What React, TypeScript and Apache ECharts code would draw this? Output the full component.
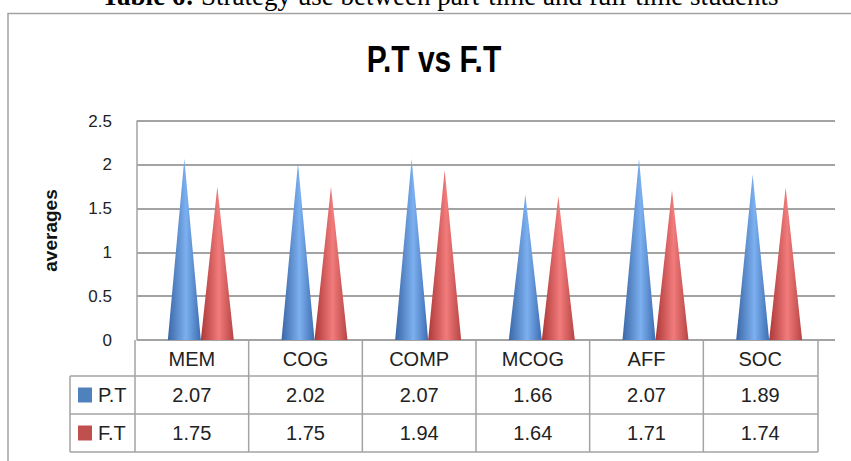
import React, { useEffect, useRef } from "react";
import * as echarts from "echarts";

const categories = ["MEM", "COG", "COMP", "MCOG", "AFF", "SOC"];
const ptValues = [2.07, 2.02, 2.07, 1.66, 2.07, 1.89];
const ftValues = [1.75, 1.75, 1.94, 1.64, 1.71, 1.74];
const seriesNames = ["P.T", "F.T"];
const yTicks = { min: 0, max: 2.5, interval: 0.5 };
const chartTitle = "P.T vs F.T";
const captionBold = "Table 6:";
const captionRest = " Strategy use between part-time and full-time students";
const yAxisName = "averages";

const FONT = "'Liberation Sans', Arial, sans-serif";
const SERIF = "'Liberation Serif', 'Times New Roman', serif";
const LINE = "#a3a3a3";

// layout
const PLOT_L = 137, PLOT_R = 835, PLOT_T = 121, PLOT_B = 340;
const SER_L = 144, SER_W = 682;
const TBL_L = 70, COL_L = 135, COL_R = 817;
const ROW_Y = [340, 376, 414, 452];
const CONE_HALF = 16.5;

const blueGrad = () =>
  new echarts.graphic.LinearGradient(0, 0, 1, 0, [
    { offset: 0, color: "#3a66a6" },
    { offset: 0.55, color: "#7cb0f0" },
    { offset: 1, color: "#3e6db2" },
  ]);
const redGrad = () =>
  new echarts.graphic.LinearGradient(0, 0, 1, 0, [
    { offset: 0, color: "#ad3838" },
    { offset: 0.55, color: "#f27b7b" },
    { offset: 1, color: "#b74444" },
  ]);

function coneSeries(name: string, values: number[], offset: number, grad: () => any) {
  return {
    type: "custom",
    name,
    xAxisIndex: 1,
    yAxisIndex: 1,
    data: values.map((v, i) => [i, v]),
    encode: { x: 0, y: 1 },
    renderItem: (_params: any, api: any) => {
      const idx = api.value(0);
      const v = api.value(1);
      const top = api.coord([idx, v]);
      const base = api.coord([idx, 0]);
      const cx = base[0] + offset;
      return {
        type: "polygon",
        shape: {
          points: [
            [cx - CONE_HALF, base[1]],
            [cx, top[1]],
            [cx + CONE_HALF, base[1]],
          ],
        },
        style: { fill: grad() },
      };
    },
  };
}

function tableGraphics() {
  const els: any[] = [];
  const colW = (COL_R - COL_L) / categories.length;
  const line = (x1: number, y1: number, x2: number, y2: number) => ({
    type: "line",
    shape: { x1, y1, x2, y2 },
    style: { stroke: LINE, lineWidth: 1.5 },
    silent: true,
  });
  els.push(line(TBL_L, ROW_Y[1], COL_R + 1, ROW_Y[1]));
  els.push(line(TBL_L, ROW_Y[2], COL_R + 1, ROW_Y[2]));
  els.push(line(TBL_L, ROW_Y[3], COL_R + 1, ROW_Y[3]));
  els.push(line(TBL_L, ROW_Y[1], TBL_L, ROW_Y[3]));
  for (let i = 0; i <= categories.length; i++) {
    const x = COL_L + i * colW + (i === categories.length ? 1 : 0);
    els.push(line(x, ROW_Y[0], x, ROW_Y[3]));
  }
  const txt = (text: string, x: number, y: number, align = "center") => ({
    type: "text",
    x,
    y,
    style: {
      text,
      fill: "#222",
      font: `20px ${FONT}`,
      textAlign: align,
      align,
      textVerticalAlign: "middle",
      verticalAlign: "middle",
    },
    silent: true,
  });
  categories.forEach((c, i) => {
    const cx = COL_L + (i + 0.5) * colW;
    els.push(txt(c, cx, (ROW_Y[0] + ROW_Y[1]) / 2 + 1));
    els.push(txt(ptValues[i].toFixed(2), cx, (ROW_Y[1] + ROW_Y[2]) / 2));
    els.push(txt(ftValues[i].toFixed(2), cx, (ROW_Y[2] + ROW_Y[3]) / 2));
  });
  const keyColors = ["#4f81bd", "#c0504d"];
  seriesNames.forEach((n, r) => {
    const cy = (ROW_Y[r + 1] + ROW_Y[r + 2]) / 2;
    els.push({
      type: "rect",
      shape: { x: 78, y: cy - 7.5, width: 14, height: 15 },
      style: { fill: keyColors[r] },
      silent: true,
    });
    els.push(txt(n, 98, cy, "left"));
  });
  return els;
}

export default function App() {
  const ref = useRef<HTMLDivElement>(null);
  useEffect(() => {
    if (!ref.current) return;
    const chart = echarts.init(ref.current, undefined, { renderer: "svg" });
    chart.setOption({
      animation: false,
      backgroundColor: "#fff",
      grid: [
        { left: PLOT_L, top: PLOT_T, width: PLOT_R - PLOT_L, height: PLOT_B - PLOT_T },
        { left: SER_L, top: PLOT_T, width: SER_W, height: PLOT_B - PLOT_T },
      ],
      xAxis: [
        { gridIndex: 0, type: "category", data: categories, show: false },
        { gridIndex: 1, type: "category", data: categories, show: false },
      ],
      yAxis: [
        {
          gridIndex: 0,
          type: "value",
          min: yTicks.min,
          max: yTicks.max,
          interval: yTicks.interval,
          name: yAxisName,
          nameLocation: "middle",
          nameRotate: 90,
          nameGap: 77,
          nameTextStyle: { fontFamily: FONT, fontSize: 19, fontWeight: "bold", color: "#111" },
          axisLine: { show: true, lineStyle: { color: LINE, width: 1.5 } },
          axisTick: { show: false },
          axisLabel: { fontFamily: FONT, fontSize: 17, color: "#222", margin: 25 },
          splitLine: { show: true, lineStyle: { color: LINE, width: 2 } },
        },
        {
          gridIndex: 1,
          type: "value",
          min: yTicks.min,
          max: yTicks.max,
          interval: yTicks.interval,
          show: false,
          splitLine: { show: false },
        },
      ],
      series: [
        coneSeries(seriesNames[0], ptValues, -CONE_HALF, blueGrad),
        coneSeries(seriesNames[1], ftValues, CONE_HALF, redGrad),
      ],
      graphic: [
        {
          type: "rect",
          shape: { x: 8, y: 13.5, width: 900, height: 500 },
          style: { fill: "none", stroke: LINE, lineWidth: 1.5 },
          silent: true,
          z: -10,
        },
        {
          type: "text",
          x: 440,
          y: -4.5,
          style: {
            text: `{b|${captionBold}}${captionRest}`,
            rich: {
              b: { fontWeight: "bold", fontFamily: SERIF, fontSize: 27, fill: "#000" },
            },
            font: `27px ${SERIF}`,
            fill: "#000",
            textAlign: "center",
            align: "center",
            textVerticalAlign: "middle",
            verticalAlign: "middle",
          },
          silent: true,
        },
        {
          type: "text",
          x: 434,
          y: 59,
          scaleY: 1.25,
          style: {
            text: chartTitle,
            font: `bold 30px ${FONT}`,
            fill: "#000",
            textAlign: "center",
            align: "center",
            textVerticalAlign: "middle",
            verticalAlign: "middle",
          },
          silent: true,
        },
        ...tableGraphics(),
      ],
    });
    return () => chart.dispose();
  }, []);
  return (
    <div
      ref={ref}
      style={{ position: "fixed", left: 0, top: 0, width: 851, height: 461, background: "#fff" }}
    />
  );
}
